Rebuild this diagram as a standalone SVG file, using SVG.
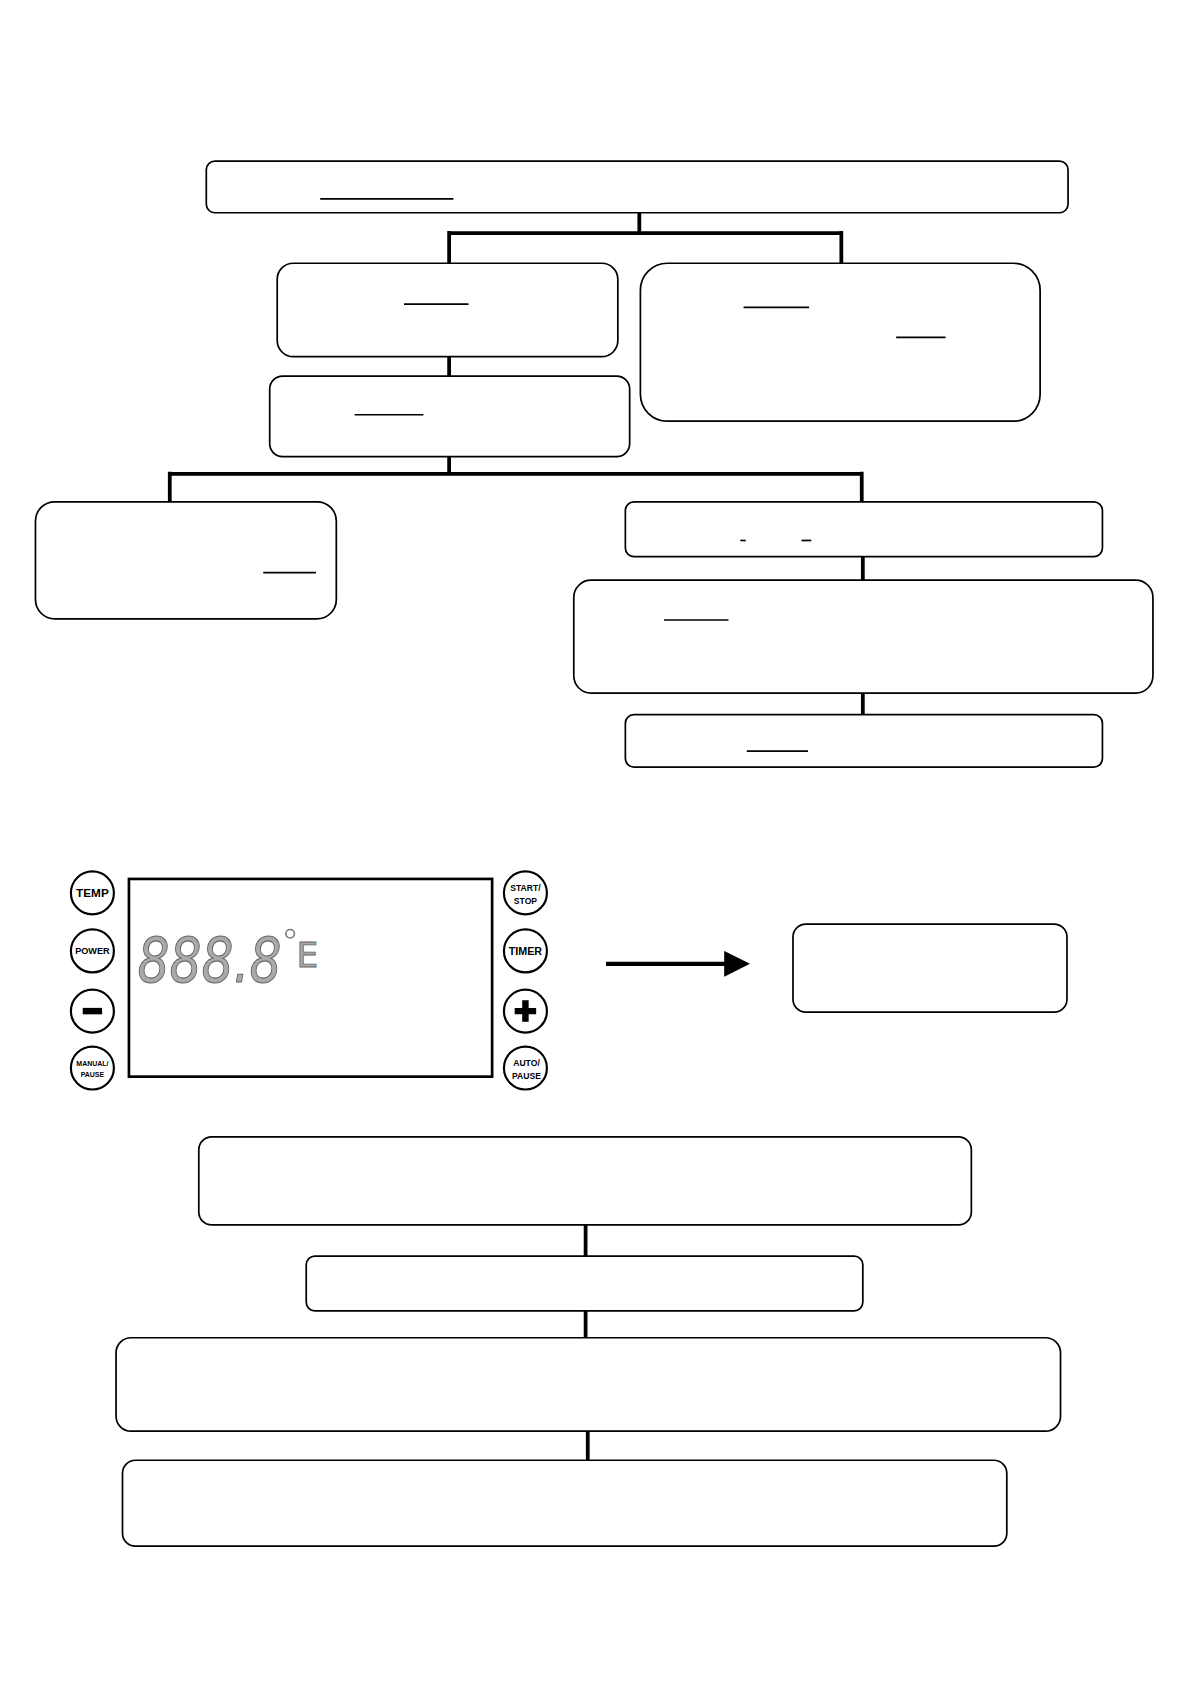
<svg xmlns="http://www.w3.org/2000/svg" width="1191" height="1684" viewBox="0 0 1191 1684">
<style>
.b{fill:#fff;stroke:#000;stroke-width:1.6}
.u{stroke:#000;stroke-width:1.6}
.c{stroke:#000;stroke-width:3.5;fill:none}
.btn{fill:#fff;stroke:#000;stroke-width:2}
.t{font-family:"Liberation Sans",Arial,sans-serif;font-weight:bold;text-anchor:middle;fill:#000}
</style>
<defs><marker id="ah" markerWidth="6" markerHeight="6" refX="5" refY="3" orient="auto" markerUnits="strokeWidth"><path d="M0,0L6,3L0,6z"/></marker></defs>
<rect width="1191" height="1684" fill="#fff"/>
<g transform="scale(1.0745)">
<g id="connectors">
<path class="c" d="M595,198V217M418,217H783M418,215V245M783,215V245M418,332V350M418,425V441M158,441H802M158,439V467M802,439V467M803,518V540M803,645V665"/>
<path class="c" d="M545,1140V1169M545,1220V1245M547,1332V1359"/>
<line x1="564" y1="897" x2="694" y2="897" stroke="#000" stroke-width="4" marker-end="url(#ah)"/>
</g>
<g id="n1"><rect class="b" x="192" y="150" width="802" height="48" rx="8"/><line class="u" x1="298" y1="185" x2="422" y2="185"/></g>
<g id="n2"><rect class="b" x="258" y="245" width="317" height="87" rx="15"/><line class="u" x1="376" y1="283" x2="436" y2="283"/></g>
<g id="n3"><rect class="b" x="596" y="245" width="372" height="147" rx="25"/><line class="u" x1="692" y1="286" x2="753" y2="286"/><line class="u" x1="834" y1="314" x2="880" y2="314"/></g>
<g id="n4"><rect class="b" x="251" y="350" width="335" height="75" rx="12"/><line class="u" x1="330" y1="386" x2="394" y2="386"/></g>
<g id="n5"><rect class="b" x="33" y="467" width="280" height="109" rx="18"/><line class="u" x1="245" y1="533" x2="294" y2="533"/></g>
<g id="n6"><rect class="b" x="582" y="467" width="444" height="51" rx="8"/><line class="u" x1="689" y1="503" x2="694" y2="503"/><line class="u" x1="746" y1="503" x2="755" y2="503"/></g>
<g id="n7"><rect class="b" x="534" y="540" width="539" height="105" rx="16"/><line class="u" x1="618" y1="577" x2="678" y2="577"/></g>
<g id="n8"><rect class="b" x="582" y="665" width="444" height="49" rx="8"/><line class="u" x1="695" y1="699" x2="752" y2="699"/></g>
<g id="panel">
<rect x="120" y="818" width="338" height="184" fill="#fff" stroke="#000" stroke-width="2.5"/>
<text x="128" y="914" font-family="'DejaVu Sans',sans-serif" font-size="58" font-style="italic" fill="#aaa" stroke="#666" stroke-width="1" textLength="134" lengthAdjust="spacingAndGlyphs">888.8</text>
<circle cx="270" cy="869" r="4" fill="none" stroke="#777" stroke-width="1.5"/>
<text x="276" y="900" font-family="'DejaVu Sans',sans-serif" font-size="32" fill="#aaa" stroke="#666" stroke-width="0.8">E</text>
<circle class="btn" cx="86" cy="831" r="20"/><text class="t" x="86" y="835" font-size="11">TEMP</text>
<circle class="btn" cx="86" cy="885" r="20"/><text class="t" x="86" y="888" font-size="8.5">POWER</text>
<circle class="btn" cx="86" cy="941" r="20"/><rect x="77" y="938" width="18" height="6"/>
<circle class="btn" cx="86" cy="994" r="20"/><text class="t" x="86" y="992" font-size="6.5">MANUAL/</text><text class="t" x="86" y="1002" font-size="6.5">PAUSE</text>
<circle class="btn" cx="489" cy="831" r="20"/><text class="t" x="489" y="829" font-size="8">START/</text><text class="t" x="489" y="841" font-size="8">STOP</text>
<circle class="btn" cx="489" cy="885" r="20"/><text class="t" x="489" y="889" font-size="10">TIMER</text>
<circle class="btn" cx="489" cy="941" r="20"/><path d="M486,931h6v7h7v6h-7v7h-6v-7h-7v-6h7z"/>
<circle class="btn" cx="489" cy="994" r="20"/><text class="t" x="490" y="992" font-size="8">AUTO/</text><text class="t" x="490" y="1004" font-size="8">PAUSE</text>
</g>
<g id="n9"><rect class="b" x="738" y="860" width="255" height="82" rx="12"/></g>
<g id="n10"><rect class="b" x="185" y="1058" width="719" height="82" rx="12"/></g>
<g id="n11"><rect class="b" x="285" y="1169" width="518" height="51" rx="8"/></g>
<g id="n12"><rect class="b" x="108" y="1245" width="879" height="87" rx="14"/></g>
<g id="n13"><rect class="b" x="114" y="1359" width="823" height="80" rx="12"/></g>
</g>
</svg>
